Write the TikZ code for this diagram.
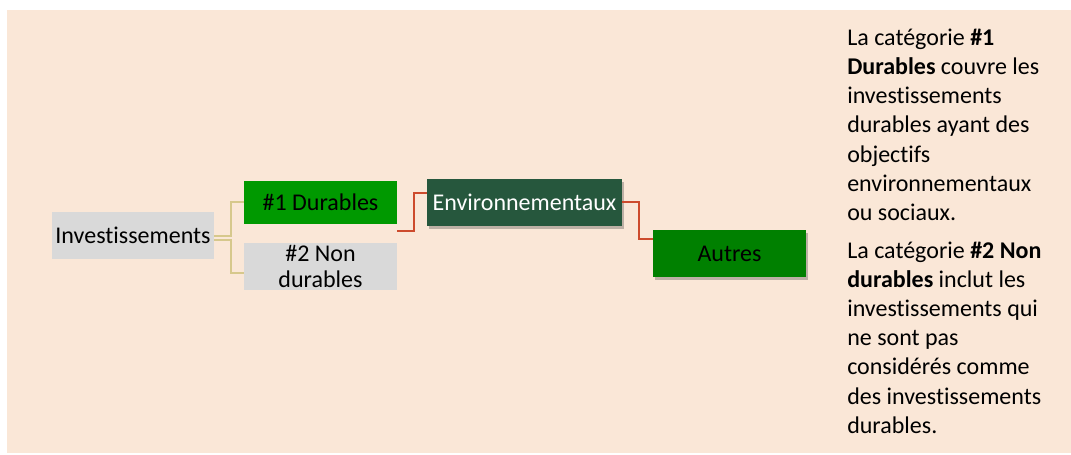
\documentclass[tikz,border=0pt]{standalone}
\usepackage{fontspec}
\setmainfont{Carlito}[Ligatures=NoCommon]
\usetikzlibrary{shadows}
\definecolor{bgpeach}{RGB}{250,231,215}
\definecolor{boxgray}{RGB}{217,217,217}
\definecolor{green1}{RGB}{0,153,0}
\definecolor{green2}{RGB}{0,128,0}
\definecolor{darkgreen}{RGB}{38,87,61}
\definecolor{tanline}{RGB}{214,200,140}
\definecolor{redline}{RGB}{205,75,45}
\tikzset{
  box/.style={rectangle, inner sep=0pt, font=\fontsize{18pt}{19pt}\selectfont, align=center, text=black},
  shadowed/.style={drop shadow={shadow xshift=1.5pt, shadow yshift=-2.5pt, opacity=0.3, fill=black!80}},
  tanconn/.style={draw=tanline, line width=1.5pt},
  redconn/.style={draw=redline, line width=1.8pt},
  txt/.style={anchor=base west, inner sep=0pt, font=\fontsize{18pt}{22pt}\selectfont, text=black}
}
\begin{document}
\begin{tikzpicture}[x=0.75pt,y=-0.75pt]
\useasboundingbox (0,0) rectangle (1071,454);
\fill[white] (0,0) rectangle (1071,454);
\fill[bgpeach] (7,10) rectangle (1071,453);

\node[box, fill=boxgray, minimum width={162*0.75pt}, minimum height={47*0.75pt}] (inv) at (133,235.5) {Investissements};
\node[box, fill=green1, minimum width={153*0.75pt}, minimum height={43*0.75pt}] (dur) at (320.5,202.5) {\#1 Durables};
\node[box, fill=boxgray, minimum width={153*0.75pt}, minimum height={47*0.75pt}] (non) at (320.5,266.5) {\#2 Non\\durables};
\node[box, fill=darkgreen, text=white, shadowed, minimum width={195*0.75pt}, minimum height={47*0.75pt}] (env) at (524.5,202.5) {Environnementaux};
\node[box, fill=green2, shadowed, minimum width={153*0.75pt}, minimum height={47*0.75pt}] (aut) at (729.5,253.5) {Autres};

\coordinate (tj) at (231,236);
\coordinate (bj) at (231,240);
\draw[tanconn] (inv.east |- tj) -- (tj) |- (dur.west |- 0,202);
\draw[tanconn] (inv.east |- bj) -- (bj) |- (non.west |- 0,273);

\coordinate (r1) at (414,231);
\draw[redconn] (dur.east |- r1) -- (r1) |- (env.west |- 0,193);
\coordinate (r2) at (639,202);
\draw[redconn] (env.east |- r2) -- (r2) |- (aut.west |- 0,239);

\node[txt] (t1) at (847,45) {La catégorie \textbf{\#1}};
\node[txt] (t2) at (847,74.3) {\textbf{Durables} couvre les};
\node[txt] (t3) at (847,103.6) {investissements};
\node[txt] (t4) at (847,132.9) {durables ayant des};
\node[txt] (t5) at (847,162.2) {objectifs};
\node[txt] (t6) at (847,191.5) {environnementaux};
\node[txt] (t7) at (847,220.8) {ou sociaux.};
\node[txt] (t8) at (847,258) {La catégorie \textbf{\#2 Non}};
\node[txt] (t9) at (847,287.2) {\textbf{durables} inclut les};
\node[txt] (t10) at (847,316.4) {investissements qui};
\node[txt] (t11) at (847,345.6) {ne sont pas};
\node[txt] (t12) at (847,374.8) {considérés comme};
\node[txt] (t13) at (847,404) {des investissements};
\node[txt] (t14) at (847,433.2) {durables.};
\end{tikzpicture}
\end{document}
